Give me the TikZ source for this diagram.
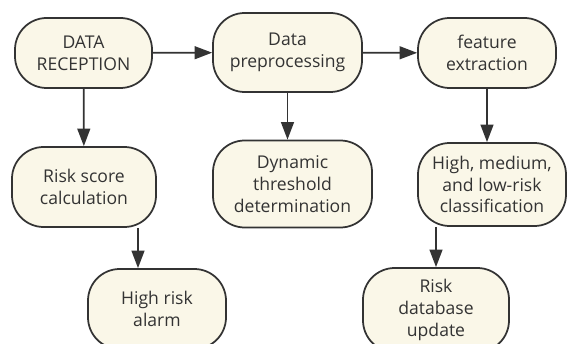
\documentclass[tikz,border=0pt]{standalone}
\usepackage{fontspec}
\setmainfont{Open Sans}
\usetikzlibrary{arrows.meta}
\definecolor{boxfill}{RGB}{250,247,232}
\definecolor{boxline}{RGB}{51,51,51}

\begin{document}
\begin{tikzpicture}[x=0.03cm, y=-0.03cm,
    procbox/.style={draw=boxline, fill=boxfill, line width=1.5pt,
      rounded corners=0.95cm, align=center, inner sep=0pt,
      font=\fontsize{15}{18.7}\selectfont, text=boxline},
    flow/.style={draw=boxline, line width=1.5pt,
      -{Triangle[length=15pt, width=11pt]}}]
  \useasboundingbox (0,0) rectangle (567,344);

  % top row
  \node[procbox, minimum width=4.11cm, minimum height=2.1cm] (recv) at (83.5,53) {DATA\\RECEPTION};
  \node[procbox, minimum width=4.47cm, minimum height=2.37cm] (prep) at (287.5,52.5) {Data\\preprocessing};
  \node[procbox, minimum width=4.14cm, minimum height=2.1cm] (feat) at (487,53) {feature\\extraction};

  % middle row
  \node[procbox, minimum width=4.32cm, minimum height=2.4cm] (score) at (84,187) {Risk score\\calculation};
  \node[procbox, minimum width=4.77cm, minimum height=2.61cm] (thres) at (292.5,184) {Dynamic\\threshold\\determination};
  \node[procbox, minimum width=4.44cm, minimum height=2.49cm] (class) at (492,184.5) {High, medium,\\and low-risk\\classification};

  % bottom row
  \node[procbox, minimum width=4.14cm, minimum height=2.4cm] (alarm) at (157,309) {High risk\\alarm};
  \node[procbox, minimum width=4.38cm, minimum height=2.52cm] (dbup) at (436,310) {Risk\\database\\update};

  \draw[flow] (recv) -- (prep);
  \draw[flow] (prep) -- (feat);
  \draw[flow] (recv) -- (score);
  \draw[flow] (prep.south) -- (thres.north -| prep.south);
  \draw[flow] (feat.south) -- (class.north -| feat.south);
  \draw[flow] (score.south -| 138,0) -- (alarm.north -| 138,0);
  \draw[flow] (class.south -| dbup.north) -- (dbup.north);
\end{tikzpicture}
\end{document}
